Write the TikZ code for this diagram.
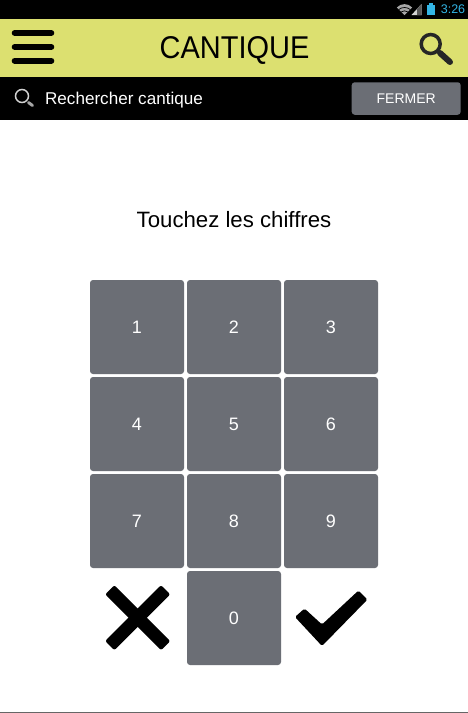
\documentclass[tikz,border=0pt]{standalone}
\usepackage{fontspec}
\setmainfont{Liberation Sans}
\newfontfamily\titlefont[FakeStretch=0.92]{Liberation Sans}
\usepackage{xcolor}
\definecolor{barolive}{HTML}{DCE070}
\definecolor{keygray}{HTML}{6B6E75}
\definecolor{statusblue}{HTML}{33B5E5}
\tikzset{
keynode/.style={rectangle, fill=keygray, text=white, rounded corners=3pt, inner sep=0pt, minimum size=94pt, font=\fontsize{18}{18}\selectfont},
closenode/.style={rectangle, fill=keygray, text=white, rounded corners=3pt, inner sep=0pt, minimum width=109pt, minimum height=32.5pt, font=\fontsize{14}{14}\selectfont},
menubar/.style={line width=6pt, black, line cap=round},
}
\begin{document}
\begin{tikzpicture}[x=1pt,y=-1pt]
    \useasboundingbox (0,0) rectangle (468,713);
    \fill[white] (0,0) rectangle (468,713);
    \fill[black] (0,0) rectangle (468,120);
    \fill[barolive] (0,18.5) rectangle (468,77);
    \draw[gray!80!black,line width=1.2pt] (0,712.2) -- (468,712.2);
    % top bar
    \draw[menubar] (14.7,33) -- (51.3,33);
    \draw[menubar] (14.7,47) -- (51.3,47);
    \draw[menubar] (14.7,60.7) -- (51.3,60.7);
    \node at (234.5,50.5) (title) {\fontsize{31.5}{31.5}\titlefont CANTIQUE};
    \draw[line width=3.5pt,black!85] (430.7,44) circle (9.5pt);
    \draw[line width=6pt,black!85,line cap=round] (440,53) -- (450,62);
    % search row
    \draw[line width=1.5pt,gray!35] (22,96) circle (6.5pt);
    \draw[line width=3pt,gray!70,line cap=round] (28.5,102.5) -- (32.5,105.5);
    \node[anchor=west,text=white] at (41.6,100) (search) {\fontsize{17.1}{17.1}\selectfont Rechercher cantique};
    \node[closenode] at (406.2,98.5) (fermer) {\raisebox{-1.2pt}{FERMER}};
    % status bar
    \fill[gray!70] (404.5,15) -- (396.8,7.5) .. controls (401,3) and (408,3) .. (412.2,7.5) -- cycle;
    \draw[black,line width=.7pt] (398.8,9.5) .. controls (402,6.8) and (407,6.8) .. (410.2,9.5);
    \draw[black,line width=.7pt] (401,12) .. controls (403,10.4) and (406,10.4) .. (408,12);
    \fill[gray!35] (411.5,15) -- (421.5,15) -- (421.5,4) -- cycle;
    \fill[gray!70!black] (417,15) -- (421.5,15) -- (421.5,4) -- (417,9) -- cycle;
    \fill[statusblue] (426.8,4.5) rectangle (435,15);
    \fill[statusblue] (429,3) rectangle (433,5);
    \node[anchor=west,text=statusblue] at (437.3,9.5) (clock) {\fontsize{12.5}{12.5}\selectfont 3:26};
    % keypad
    \node at (234,219.5) (prompt) {\fontsize{22.2}{22.2}\selectfont Touchez les chiffres};
    \node[keynode] at (137,327) (k1) {1};
    \node[keynode] at (234,327) (k2) {2};
    \node[keynode] at (331,327) (k3) {3};
    \node[keynode] at (137,424) (k4) {4};
    \node[keynode] at (234,424) (k5) {5};
    \node[keynode] at (331,424) (k6) {6};
    \node[keynode] at (137,521) (k7) {7};
    \node[keynode] at (234,521) (k8) {8};
    \node[keynode] at (331,521) (k9) {9};
    \node[keynode] at (234,618) (k0) {0};
    % cancel and confirm
    \fill[black,rounded corners=2pt,rotate around={45:(137.7,617.7)}] (98.2,611.2) rectangle (177.2,624.2);
    \fill[black,rounded corners=2pt,rotate around={-45:(137.7,617.7)}] (98.2,611.2) rectangle (177.2,624.2);
    \fill[black,rounded corners=1.5pt] (304.5,608.5) -- (322,624.5) -- (358.5,590.5) -- (367.5,599.5) -- (322,646) -- (295,617) -- cycle;
\end{tikzpicture}
\end{document}
